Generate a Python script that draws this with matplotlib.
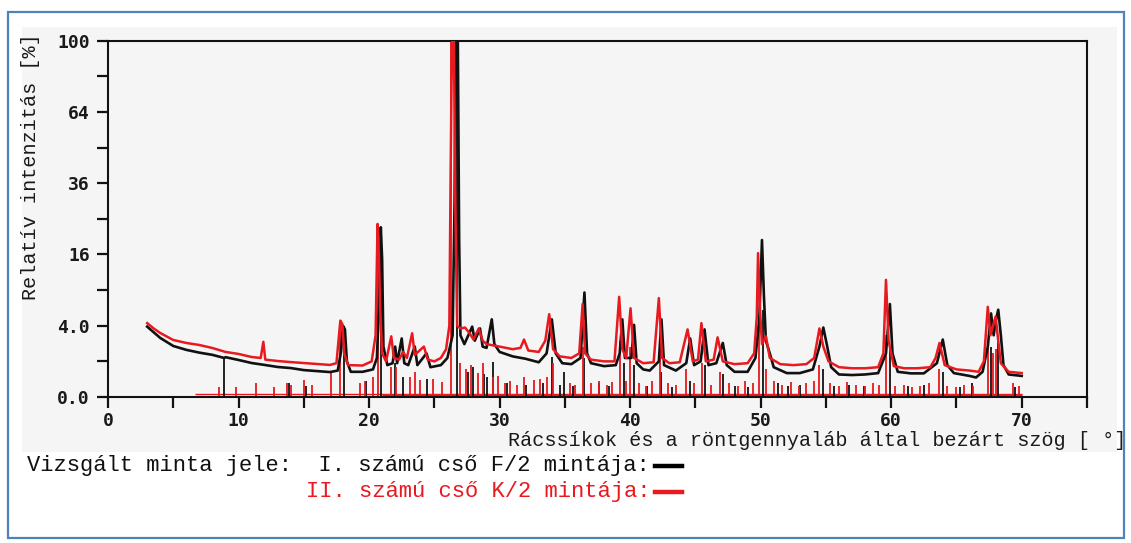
import numpy as np
import matplotlib
matplotlib.use("Agg")
import matplotlib.pyplot as plt
from matplotlib.patches import Rectangle

# ---------------- data ----------------
# Trace I (black): 2theta [deg], relative intensity [%]
black_theta = [3.0, 3.5, 4.0, 5.0, 6.0, 7.0, 8.0, 8.9, 9.0, 10.0, 11.0, 12.0, 13.0, 14.0, 15.0,
               16.0, 17.0, 17.6, 17.85, 18.0, 18.15, 18.3, 18.6, 19.5, 20.3, 20.6, 20.75, 20.9,
               21.0, 21.1, 21.4, 21.8, 22.0, 22.15, 22.5, 22.7, 23.0, 23.5, 23.7, 24.4, 24.7,
               25.5, 26.0, 26.4, 26.55, 26.65, 26.8, 26.9, 27.0, 27.3, 27.6, 27.9, 28.1, 28.5,
               28.7, 29.0, 29.4, 29.6, 30.0, 31.0, 32.0, 33.0, 33.6, 34.0, 34.3, 34.8, 35.5,
               36.2, 36.5, 36.7, 37.0, 38.0, 38.9, 39.2, 39.4, 39.6, 40.1, 40.3, 40.5, 41.0,
               41.5, 42.2, 42.4, 42.6, 43.5, 44.3, 44.6, 44.9, 45.4, 45.7, 46.0, 46.6, 47.1,
               47.4, 48.0, 49.0, 49.6, 49.9, 50.1, 50.25, 50.4, 50.7, 51.0, 52.0, 53.0, 54.0,
               54.5, 54.8, 55.1, 55.4, 56.0, 57.0, 58.0, 59.0, 59.6, 59.9, 60.1, 60.5, 61.5,
               62.5, 63.5, 63.95, 64.3, 64.8, 66.0, 66.5, 67.0, 67.4, 67.65, 67.85, 68.0, 68.2,
               68.4, 68.6, 69.0, 70.0]
black_int = [3.9, 3.3, 2.75, 2.05, 1.75, 1.55, 1.4, 1.2, 1.25, 1.08, 0.91, 0.81, 0.71, 0.66, 0.57,
             0.53, 0.49, 0.55, 1.6, 4.0, 3.6, 1.0, 0.5, 0.5, 0.6, 1.2, 6.0, 22.7,
             15.0, 2.0, 0.8, 0.9, 2.0, 0.9, 2.7, 0.9, 0.8, 2.0, 0.8, 1.5, 0.7,
             0.8, 1.2, 3.0, 30.0, 100.0, 100.0, 20.0, 3.0, 2.2, 3.0, 3.9, 2.5, 3.7,
             2.0, 1.9, 4.75, 2.2, 1.6, 1.3, 1.15, 0.95, 1.5, 4.75, 1.5, 0.9, 0.85,
             1.2, 8.6, 1.5, 0.9, 0.75, 0.8, 1.5, 4.75, 1.2, 1.2, 4.1, 0.9, 0.6,
             0.55, 1.0, 4.75, 0.8, 0.55, 0.9, 2.7, 0.8, 1.0, 3.6, 0.8, 0.9, 2.3,
             0.8, 0.5, 0.5, 1.2, 5.0, 19.4, 8.0, 2.5, 1.5, 0.7, 0.45, 0.45, 0.6,
             2.0, 3.8, 2.0, 0.7, 0.4, 0.38, 0.4, 0.45, 1.5, 6.8, 1.5, 0.5, 0.44,
             0.44, 0.9, 2.6, 0.8, 0.45, 0.35, 0.3, 0.5, 2.0, 5.5, 3.0, 4.5, 6.0,
             3.0, 0.8, 0.4, 0.35]

# Trace II (red)
red_theta = [3.0, 3.5, 4.0, 5.0, 6.0, 7.0, 8.0, 9.0, 10.0, 11.0, 11.7, 11.9, 12.05, 13.0, 14.0,
             15.0, 16.0, 17.0, 17.5, 17.7, 17.8, 17.95, 18.1, 18.4, 19.5, 20.2, 20.5, 20.65,
             20.75, 20.85, 21.0, 21.3, 21.7, 21.9, 22.3, 22.6, 22.9, 23.3, 23.5, 24.2, 24.5,
             25.0, 25.5, 25.9, 26.15, 26.25, 26.35, 26.5, 26.6, 26.75, 27.0, 27.35, 27.7,
             28.0, 28.4, 28.7, 29.0, 30.0, 31.0, 31.6, 31.87, 32.2, 33.0, 33.5, 33.8, 34.1,
             34.6, 35.5, 36.1, 36.36, 36.55, 37.0, 38.0, 38.8, 39.16, 39.4, 39.7, 40.03,
             40.3, 41.0, 41.8, 42.2, 42.45, 43.0, 43.8, 44.4, 44.8, 45.2, 45.46, 45.8, 46.4,
             46.7, 47.1, 48.0, 49.0, 49.5, 49.7, 49.8, 49.95, 50.1, 50.4, 50.7, 51.5, 52.5,
             53.5, 54.1, 54.5, 54.8, 55.2, 56.0, 57.0, 58.0, 59.0, 59.4, 59.6, 59.8, 60.2,
             61.0, 62.0, 63.0, 63.4, 63.7, 64.1, 65.0, 66.0, 66.7, 67.1, 67.4, 67.6, 67.8,
             68.0, 68.2, 68.4, 69.0, 70.0]
red_int = [4.3, 3.7, 3.23, 2.56, 2.3, 2.13, 1.89, 1.6, 1.46, 1.26, 1.2, 2.4, 1.1, 1.02, 0.96,
           0.91, 0.86, 0.81, 0.9, 3.0, 4.6, 4.2, 1.5, 0.8, 0.78, 1.0, 3.0, 23.6,
           16.0, 6.0, 1.5, 1.0, 2.9, 1.2, 1.1, 1.6, 1.2, 3.2, 1.4, 2.0, 1.1,
           1.0, 1.2, 1.8, 4.0, 40.0, 100.0, 100.0, 30.0, 4.0, 3.7, 3.8, 3.2,
           2.6, 3.7, 2.5, 2.2, 2.0, 1.8, 1.9, 2.6, 1.7, 1.6, 2.5, 5.4, 1.8,
           1.3, 1.2, 1.5, 6.8, 1.5, 1.1, 1.0, 1.0, 7.9, 1.8, 1.2, 6.2,
           1.2, 0.9, 0.95, 7.7, 1.2, 0.9, 0.95, 3.6, 1.0, 1.1, 4.3, 1.0, 1.1,
           2.8, 1.0, 0.85, 0.9, 1.5, 5.0, 16.3, 6.0, 2.2, 2.9, 1.2, 0.85, 0.8,
           0.85, 1.2, 3.7, 2.0, 1.0, 0.7, 0.65, 0.65, 0.7, 1.5, 10.8, 2.5, 0.75,
           0.65, 0.65, 0.7, 1.2, 2.3, 0.8, 0.6, 0.55, 0.5, 1.0, 6.4, 3.0, 4.0,
           5.1, 2.5, 0.9, 0.5, 0.45]

# Stick (line) patterns
red_stick_pos = [8.5, 9.8, 11.3, 12.7, 13.7, 14.0, 15.0, 15.6, 17.1, 17.8, 19.3, 19.7, 20.3, 20.65,
                 21.7, 22.1, 23.1, 23.5, 23.9, 24.9, 25.6, 26.3, 27.0, 27.4, 27.8, 28.35, 28.7,
                 29.5, 29.9, 30.4, 30.8, 31.3, 31.9, 32.6, 33.1, 33.6, 34.1, 35.4, 35.8, 36.4,
                 37.0, 37.6, 38.2, 38.6, 39.2, 39.7, 40.0, 40.7, 41.2, 41.7, 42.3, 42.9, 43.5,
                 44.3, 44.9, 45.5, 46.2, 46.9, 47.6, 48.3, 48.8, 49.4, 49.85, 50.4, 51.0, 51.6,
                 52.3, 52.9, 53.5, 54.1, 54.5, 55.3, 56.0, 56.6, 57.3, 58.0, 58.6, 59.1, 59.6,
                 60.3, 61.0, 61.6, 62.2, 62.9, 63.7, 64.3, 65.0, 65.6, 66.3, 67.4, 67.8, 68.0,
                 69.3, 69.8]
red_stick_h = [0.08, 0.08, 0.15, 0.08, 0.15, 0.12, 0.23, 0.12, 0.45, 4.5, 0.15, 0.2, 0.3, 23.0,
               0.7, 0.7, 0.33, 0.5, 0.23, 0.25, 0.18, 100.0, 0.9, 0.6, 0.8, 0.45, 0.9,
               0.3, 0.35, 0.15, 0.2, 0.12, 0.3, 0.22, 0.25, 0.3, 0.9, 0.15, 0.12, 2.0,
               0.15, 0.2, 0.12, 0.18, 2.5, 0.2, 2.0, 0.15, 0.1, 0.2, 2.0, 0.15, 0.12,
               0.6, 0.15, 0.9, 0.12, 0.5, 0.15, 0.1, 0.2, 0.15, 5.0, 0.6, 0.2, 0.12,
               0.18, 0.1, 0.15, 0.2, 0.8, 0.15, 0.1, 0.18, 0.12, 0.1, 0.15, 0.12, 3.0,
               0.1, 0.12, 0.08, 0.1, 0.15, 0.6, 0.1, 0.08, 0.12, 0.1, 2.5, 1.5, 1.8,
               0.15, 0.1]
black_stick_pos = [8.86, 13.9, 15.2, 18.1, 19.8, 20.95, 22.0, 22.6, 24.4, 26.75, 27.6, 28.0, 28.8,
                   29.0, 29.5, 30.6, 32.0, 33.3, 34.0, 34.6, 34.9, 35.6, 36.5, 37.6, 38.4, 39.5,
                   40.3, 41.3, 42.4, 43.2, 44.6, 45.7, 47.1, 48.0, 49.0, 50.15, 51.3, 52.1, 53.0,
                   54.8, 55.6, 56.8, 57.9, 59.9, 61.3, 62.5, 64.0, 65.3, 66.2, 67.65, 68.2, 69.5]
black_stick_h = [1.2, 0.15, 0.1, 3.0, 0.2, 15.0, 0.9, 0.3, 0.25, 100.0, 0.5, 0.7, 0.4,
                 0.3, 0.98, 0.15, 0.12, 0.15, 1.28, 0.12, 0.5, 0.1, 1.2, 0.15, 0.1, 0.9,
                 0.8, 0.1, 0.5, 0.08, 0.2, 0.8, 0.4, 0.1, 0.08, 6.0, 0.15, 0.1, 0.12,
                 0.6, 0.1, 0.12, 0.1, 2.0, 0.1, 0.12, 0.5, 0.08, 0.15, 2.0, 2.5, 0.08]

y_ticks = [0, 4, 16, 36, 64, 100]
y_ticklabels = ["0.0", "4.0", "16", "36", "64", "100"]
y_minor = [1, 9, 25, 49, 81]
x_ticks = [0, 10, 20, 30, 40, 50, 60, 70]
x_minor = [5, 15, 25, 35, 45, 55, 65, 75]

RED = "#e8191f"
BLACK = "#111111"

# ---------------- figure ----------------
W, H = 1131, 543
fig = plt.figure(figsize=(W / 100, H / 100), dpi=100)
fig.patch.set_facecolor("white")

# scanned-paper background and blue frame
fig.patches.append(Rectangle((22 / W, 1 - 452 / H), (1117 - 22) / W, (452 - 27) / H,
                             transform=fig.transFigure, facecolor="#f5f5f5",
                             edgecolor="none", zorder=-5))
fig.patches.append(Rectangle((8 / W, 1 - 538 / H), (1124 - 8) / W, (538 - 12) / H,
                             transform=fig.transFigure, fill=False,
                             edgecolor="#4f81bd", linewidth=1.6, zorder=5))

ax = fig.add_axes([108 / W, 1 - 397 / H, (1087 - 108) / W, (397 - 40.7) / H])
ax.set_zorder(1)
ax.set_facecolor("none")
ax.set_yscale("function", functions=(lambda y: np.sqrt(np.clip(y, 0, None)),
                                      lambda y: np.square(y)))
ax.set_xlim(0, 75)
ax.set_ylim(0, 100)

# sticks
ax.hlines(0.008, 6.7, 70, color=RED, linewidth=1.0, zorder=2)
ax.hlines(0.004, 21.0, 70, color=RED, linewidth=2.0, zorder=2)
ax.vlines(black_stick_pos, 0, black_stick_h, color=BLACK, linewidth=1.3, zorder=2)
ax.vlines(red_stick_pos, 0, red_stick_h, color=RED, linewidth=1.3, zorder=2)

# traces
ax.plot(black_theta, black_int, color=BLACK, linewidth=1.9, zorder=3)
ax.plot(red_theta, red_int, color=RED, linewidth=1.8, zorder=4)

# axes styling
for s in ax.spines.values():
    s.set_linewidth(1.5)
    s.set_color("#111111")
ax.set_yticks(y_ticks)
ax.set_yticklabels(y_ticklabels)
ax.set_yticks(y_minor, minor=True)
ax.set_xticks(x_ticks)
ax.set_xticklabels([str(v) for v in x_ticks])
ax.set_xticks(x_minor, minor=True)
ax.tick_params(which="both", direction="out", length=8, width=1.6, color="#111111")
ax.tick_params(axis="y", which="both", pad=5)
ax.tick_params(axis="x", which="both", pad=3)
for lab in ax.get_xticklabels() + ax.get_yticklabels():
    lab.set_fontfamily("DejaVu Sans Mono")
    lab.set_fontweight("bold")
    lab.set_fontsize(13)
    lab.set_color("#1a1a1a")

# axis titles
fig.text(31 / W, 1 - 167 / H, "Relatív intenzitás [%]", rotation=90, ha="center", va="center",
         family="Liberation Mono", fontsize=14.5, color="#1a1a1a")
fig.text(1126 / W, 1 - 441 / H, "Rácssíkok és a röntgennyaláb által bezárt szög [ °]",
         ha="right", va="center", family="Liberation Mono", fontsize=14.5, color="#1a1a1a")

# legend text
fig.text(650 / W, 1 - 465 / H, "Vizsgált minta jele:  I. számú cső F/2 mintája:",
         ha="right", va="center", family="Liberation Mono", fontsize=15.9, color="#111111")
fig.text(650 / W, 1 - 491 / H, "II. számú cső K/2 mintája:",
         ha="right", va="center", family="Liberation Mono", fontsize=15.9, color=RED)
fig.add_artist(plt.Line2D([655 / W, 682 / W], [1 - 466 / H, 1 - 466 / H],
                          transform=fig.transFigure, color="#000000", linewidth=3.2))
fig.add_artist(plt.Line2D([655 / W, 682 / W], [1 - 492 / H, 1 - 492 / H],
                          transform=fig.transFigure, color=RED, linewidth=3.2))

fig.savefig("out.png", dpi=100)
